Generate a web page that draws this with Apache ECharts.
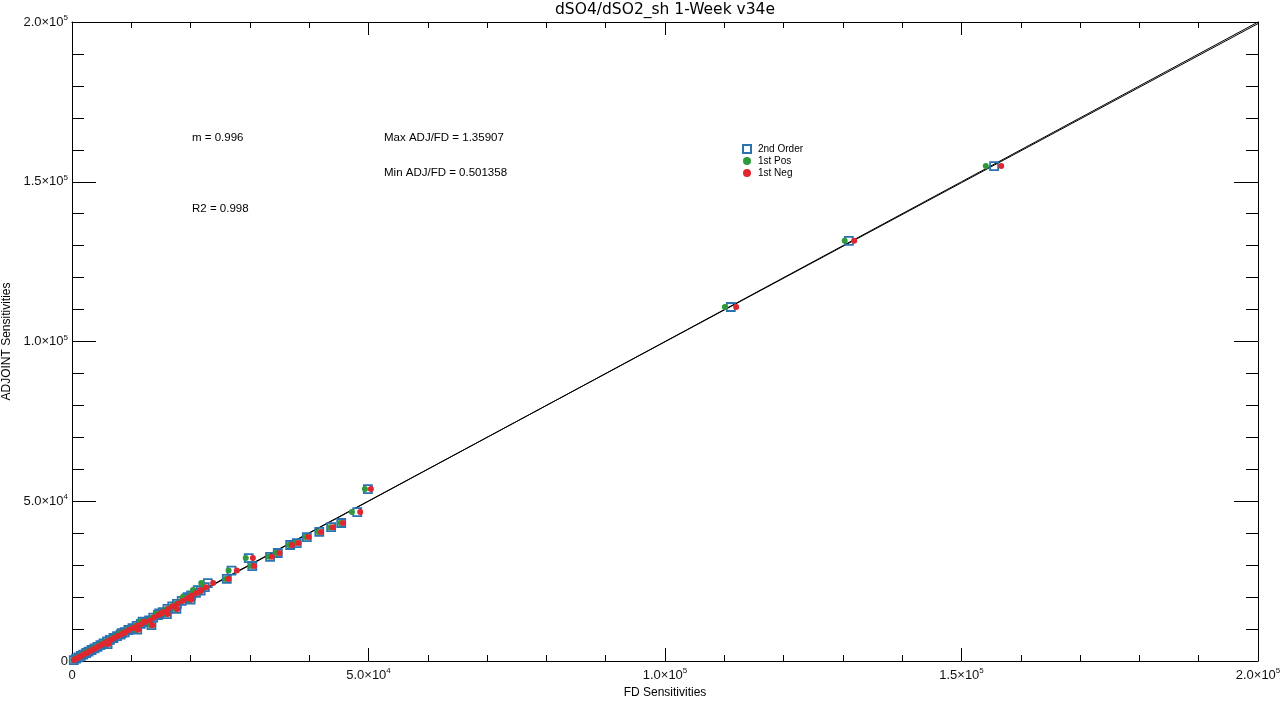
<!DOCTYPE html>
<html>
<head>
<meta charset="utf-8">
<script src="https://cdn.jsdelivr.net/npm/echarts@6/dist/echarts.min.js"></script>
<style>html,body{margin:0;padding:0;background:#fff}#c{width:1280px;height:709px}</style>
</head>
<body>
<div id="c"></div>
<script>
const titleText = 'dSO4/dSO2_sh 1-Week v34e';
const xName = 'FD Sensitivities';
const yName = 'ADJOINT Sensitivities';
const seriesNames = ['2nd Order', '1st Pos', '1st Neg'];
const annotations = ['m = 0.996', 'R2 = 0.998', 'Max ADJ/FD = 1.35907', 'Min ADJ/FD = 0.501358'];
const tickLabels = {0: '0', 50000: '5.0×10|4', 100000: '1.0×10|5', 150000: '1.5×10|5', 200000: '2.0×10|5'};

const adjY = [154900,131500,110800,53800,46600,43200,41900,40400,38800,36900,36300,33800,32600,32200,29700,28300,25700,24400,22200,20000,14900,12300,8700,
  300,750,1150,1600,2000,2500,2950,3450,3950,4450,5000,5500,6100,6600,7200,7800,8300,9000,9700,10300,11000,11600,12200,12700,13600,14400,15300,16300,17100,17900,18800,19600,20500,21300,22000,
  11200,14700,9800,16300,5300,19200,23100];
const fd2nd = [155500,131000,111100,49900,48100,45400,43700,41700,39600,37900,36800,34700,33400,29800,30400,26900,26100,22900,21200,19500,14700,11900,8400,
  300,700,1100,1500,1900,2400,2800,3300,3800,4300,4800,5300,5900,6400,7000,7600,8200,8900,9500,10200,10900,11600,12300,13000,13700,14500,15300,16100,16900,17700,18500,19300,20100,20900,21700,
  13400,16000,11000,17600,6000,20000,22400];
const fdPos = [154100,130300,110100,49400,47200,45200,43500,41500,39400,37700,36600,34500,33200,29300,30200,26400,25900,21800,20400,18700,14300,11500,8100,
  250,650,1050,1450,1850,2300,2700,3200,3700,4200,4700,5200,5800,6300,6900,7500,8100,8800,9400,10100,10800,11500,12200,12900,13600,14400,15200,16000,16800,17600,18400,19200,20000,20800,21600,
  13250,15850,10850,17450,5900,19850,22200];
const fdNeg = [156700,131900,112000,50400,48600,45700,44000,42000,39900,38200,37100,35000,33700,30500,30700,27800,26400,23800,21700,20000,15000,12200,8600,
  350,750,1150,1550,1950,2500,2900,3400,3900,4400,4900,5400,6000,6500,7100,7700,8300,9000,9600,10300,11000,11700,12400,13100,13800,14600,15400,16200,17000,17800,18600,19400,20200,21000,21800,
  13550,16150,11150,17750,6100,20150,22600];
const oneToOne = [[0, 0], [200000, 200000]];
const fitLine = [[0, 300], [200000, 199500]];

const FONT = '"Liberation Sans", Arial, sans-serif';
function fmt(v) {
  const t = tickLabels[v];
  if (t === undefined) return '';
  if (t.indexOf('|') < 0) return '{b|' + t + '}';
  const p = t.split('|');
  return '{b|' + p[0] + '}{s|' + p[1] + '}';
}
const rich = {
  b: {fontSize: 13, lineHeight: 16, fontFamily: FONT, color: '#111'},
  s: {fontSize: 8, lineHeight: 8, fontFamily: FONT, color: '#111', verticalAlign: 'top'}
};
function zip(xs, ys) { return xs.map((x, i) => [x, ys[i]]); }

function axisBase(extra) {
  return Object.assign({
    type: 'value', min: 0, max: 200000, interval: 50000,
    axisLine: {show: true, onZero: false, lineStyle: {color: '#000', width: 1}},
    splitLine: {show: false}
  }, extra);
}

const chart = echarts.init(document.getElementById('c'), null, {renderer: 'canvas'});
chart.setOption({
  animation: false,
  backgroundColor: '#fff',
  grid: {left: 72, right: 22, top: 22, bottom: 48, containLabel: false, outerBoundsMode: 'none'},
  legend: {
    orient: 'vertical', left: 737, top: 138, itemWidth: 8, itemHeight: 8, itemGap: 0,
    textStyle: {fontSize: 10, lineHeight: 12, fontFamily: FONT, color: '#000', padding: [0, 0, 0, 2]},
    data: seriesNames
  },
  xAxis: [
    axisBase({position: 'bottom', name: xName, nameLocation: 'middle', nameGap: 24,
      nameTextStyle: {fontSize: 12, fontFamily: FONT, color: '#000'},
      axisTick: {show: true, inside: true, length: 13, lineStyle: {color: '#000'}},
      minorTick: {show: true, splitNumber: 5, length: 6, lineStyle: {color: '#000'}},
      axisLabel: {show: true, margin: 6, formatter: fmt, rich: rich, showMaxLabel: true, showMinLabel: true, hideOverlap: false}}),
    axisBase({position: 'top',
      axisTick: {show: true, inside: true, length: 13, lineStyle: {color: '#000'}},
      minorTick: {show: true, splitNumber: 5, length: 6, lineStyle: {color: '#000'}},
      axisLabel: {show: false}})
  ],
  yAxis: [
    axisBase({position: 'left', name: yName, nameLocation: 'middle', nameGap: 54,
      nameTextStyle: {fontSize: 12, fontFamily: FONT, color: '#000'},
      axisTick: {show: true, inside: true, length: 24, lineStyle: {color: '#000'}},
      minorTick: {show: true, splitNumber: 5, length: 12, lineStyle: {color: '#000'}},
      axisLabel: {show: true, margin: 4, formatter: fmt, rich: rich, showMaxLabel: true, showMinLabel: true, hideOverlap: false}}),
    axisBase({position: 'right',
      axisTick: {show: true, inside: true, length: 24, lineStyle: {color: '#000'}},
      minorTick: {show: true, splitNumber: 5, length: 12, lineStyle: {color: '#000'}},
      axisLabel: {show: false}})
  ],
  graphic: [
    {type: 'text', x: 665, y: 10, style: {text: titleText, fontSize: 15.5, fontFamily: '"DejaVu Sans", sans-serif', fill: '#000', textAlign: 'center', verticalAlign: 'middle'}},
    {type: 'text', x: 192, y: 138, style: {text: annotations[0], fontSize: 11.5, fontFamily: FONT, fill: '#000', verticalAlign: 'middle'}},
    {type: 'text', x: 192, y: 209, style: {text: annotations[1], fontSize: 11.5, fontFamily: FONT, fill: '#000', verticalAlign: 'middle'}},
    {type: 'text', x: 384, y: 138, style: {text: annotations[2], fontSize: 11.5, fontFamily: FONT, fill: '#000', verticalAlign: 'middle'}},
    {type: 'text', x: 384, y: 173, style: {text: annotations[3], fontSize: 11.5, fontFamily: FONT, fill: '#000', verticalAlign: 'middle'}}
  ],
  series: [
    {name: '1:1', type: 'line', data: oneToOne, symbol: 'none', silent: true, lineStyle: {color: '#000', width: 1}, z: 1},
    {name: 'fit', type: 'line', data: fitLine, symbol: 'none', silent: true, lineStyle: {color: '#000', width: 1}, z: 1},
    {name: seriesNames[0], type: 'scatter', data: zip(fd2nd, adjY), symbol: 'rect', symbolSize: 8, z: 2,
      itemStyle: {color: 'rgba(255,255,255,0)', borderColor: '#2a72b0', borderWidth: 1.8, opacity: 1}},
    {name: seriesNames[1], type: 'scatter', data: zip(fdPos, adjY), symbol: 'circle', symbolSize: 6, z: 3,
      itemStyle: {color: '#2f9a3c', opacity: 1}},
    {name: seriesNames[2], type: 'scatter', data: zip(fdNeg, adjY), symbol: 'circle', symbolSize: 6, z: 4,
      itemStyle: {color: '#e0262f', opacity: 1}}
  ]
});
</script>
</body>
</html>
